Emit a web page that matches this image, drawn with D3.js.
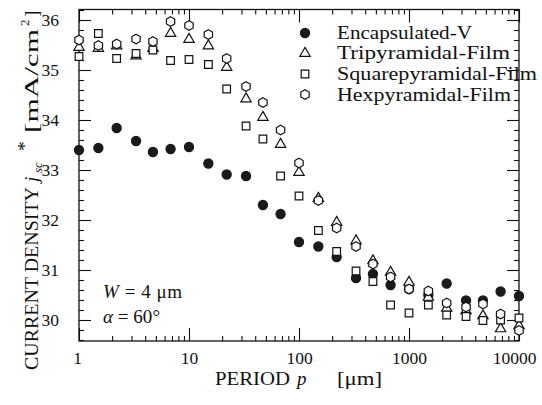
<!DOCTYPE html>
<html><head><meta charset="utf-8">
<script src="https://cdn.jsdelivr.net/npm/d3@7"></script>
</head>
<body style="margin:0;background:#fff">
<svg id="c" width="542" height="405"></svg>
<script>
const periods = [1,1.5,2.2,3.3,4.7,6.8,10,15,22,33,47,68,100,150,220,330,470,680,1000,1500,2200,3300,4700,6800,10000];
const encapsulated = [33.40,33.44,33.84,33.58,33.36,33.42,33.46,33.13,32.91,32.88,32.30,32.12,31.56,31.47,31.26,30.84,30.92,30.70,30.62,30.50,30.73,30.39,30.39,30.57,30.48];
const tripyramidal = [35.47,35.45,35.50,35.30,35.45,35.75,35.63,35.50,35.07,34.44,34.07,33.53,32.97,32.45,31.97,31.60,31.20,30.97,30.77,30.47,30.25,30.20,30.10,29.84,29.90];
const squarepyramidal = [35.27,35.73,35.23,35.33,35.40,35.19,35.21,35.11,34.62,33.88,33.62,32.88,32.48,31.79,31.37,30.98,30.77,30.30,30.14,30.30,30.10,30.07,29.99,30.00,30.04];
const hexpyramidal = [35.60,35.49,35.52,35.62,35.57,35.97,35.89,35.71,35.23,34.67,34.35,33.80,33.14,32.39,31.84,31.47,31.12,30.86,30.62,30.58,30.34,30.26,30.32,30.12,29.79];
const seriesNames = ["Encapsulated-V","Tripyramidal-Film","Squarepyramidal-Film","Hexpyramidal-Film"];
const xMajorTicks = [1,10,100,1000,10000];
const xTickLabels = ["1","10","100","1000","10000"];
const yMajorTicks = [30,31,32,33,34,35,36];

const FONT = "'Liberation Serif'";
const svg = d3.select("#c");
const L=79, R=519, T=9.5, B=341;
const x = d3.scaleLog().domain([1,10000]).range([L,R]);
const y = d3.scaleLinear().domain([29.58,36.21]).range([B,T]);

const xMinor = x.ticks().filter(v=>!xMajorTicks.includes(v));
const yMinor = d3.range(29.6,36.21,0.2).map(v=>+v.toFixed(1)).filter(v=>!yMajorTicks.includes(v));

function styleAxis(g, fs){
  g.attr("font-family",null).attr("font-size",null);
  g.select(".domain").remove();
  g.selectAll("line").attr("stroke","#111").attr("stroke-width",1.1);
  g.selectAll("text").attr("fill","#111").style("font-family",FONT).style("font-size",(fs||17)+"px");
}
// bottom
svg.append("g").attr("transform",`translate(0,${B})`)
  .call(d3.axisBottom(x).tickValues(xMajorTicks).tickSize(-13).tickPadding(10.5).tickFormat((d,i)=>xTickLabels[i]))
  .call(g=>styleAxis(g,17.5))
  .call(g=>g.selectAll("text").attr("dx",d=>d===10000?-5:(d===1?-2:0)));
svg.append("g").attr("transform",`translate(0,${B})`)
  .call(d3.axisBottom(x).tickValues(xMinor).tickSize(-5).tickFormat(""))
  .call(styleAxis);
// top
svg.append("g").attr("transform",`translate(0,${T})`)
  .call(d3.axisTop(x).tickValues(xMajorTicks).tickSize(-13).tickFormat(""))
  .call(styleAxis);
svg.append("g").attr("transform",`translate(0,${T})`)
  .call(d3.axisTop(x).tickValues(xMinor).tickSize(-5).tickFormat(""))
  .call(styleAxis);
// left
svg.append("g").attr("transform",`translate(${L},0)`)
  .call(d3.axisLeft(y).tickValues(yMajorTicks).tickSize(-12).tickPadding(20).tickFormat(d3.format("d")))
  .call(g=>styleAxis(g,17.5));
svg.append("g").attr("transform",`translate(${L},0)`)
  .call(d3.axisLeft(y).tickValues(yMinor).tickSize(-5).tickFormat(""))
  .call(styleAxis);
// right
svg.append("g").attr("transform",`translate(${R},0)`)
  .call(d3.axisRight(y).tickValues(yMajorTicks).tickSize(-12).tickFormat(""))
  .call(styleAxis);
svg.append("g").attr("transform",`translate(${R},0)`)
  .call(d3.axisRight(y).tickValues(yMinor).tickSize(-5).tickFormat(""))
  .call(styleAxis);
// frame
svg.append("rect").attr("x",L).attr("y",T).attr("width",R-L).attr("height",B-T)
  .attr("fill","none").attr("stroke","#111").attr("stroke-width",1.3);

// symbols
const sym = {
  circleFilled: d3.symbol().type(d3.symbolCircle).size(66),
  triangle: d3.symbol().type(d3.symbolTriangle).size(46),
  square: d3.symbol().type(d3.symbolSquare).size(58),
};
function hexPath(r){
  const pts=d3.range(6).map(i=>{const a=Math.PI/3*i - Math.PI/2;return [r*Math.cos(a), r*Math.sin(a)];});
  return "M"+pts.map(p=>p.join(",")).join("L")+"Z";
}
const hex = hexPath(4.8);
const series = [
  {name:seriesNames[0], vals:encapsulated, path:sym.circleFilled(), fill:"#1a1a1a", stroke:"#1a1a1a", w:135},
  {name:seriesNames[1], vals:tripyramidal, path:sym.triangle(), fill:"#fff", stroke:"#111", dy:0.8, w:173},
  {name:seriesNames[2], vals:squarepyramidal, path:sym.square(), fill:"#fff", stroke:"#111", w:200},
  {name:seriesNames[3], vals:hexpyramidal, path:hex, fill:"#fff", stroke:"#111", w:174},
];
series.forEach(s=>{
  svg.append("g").selectAll("path").data(periods.map((p,i)=>[p,s.vals[i]])).join("path")
    .attr("d",s.path)
    .attr("transform",d=>`translate(${x(d[0])},${y(d[1])+(s.dy||0)})`)
    .attr("fill",s.fill).attr("stroke",s.stroke).attr("stroke-width",1.2);
});

function txt(sel,fs){ return sel.append("text").style("font-family",FONT).style("font-size",(fs||18)+"px").attr("fill","#111"); }

// legend
const legY=[33,52.5,74,94.5];
series.forEach((s,i)=>{
  svg.append("path").attr("d",s.path).attr("transform",`translate(305,${legY[i]+(s.dy||0)})`)
    .attr("fill",s.fill).attr("stroke",s.stroke).attr("stroke-width",1.2);
  txt(svg,18).attr("x",337).attr("y",legY[i]+6).attr("textLength",s.w).attr("lengthAdjust","spacingAndGlyphs").text(s.name);
});

// annotations
const ann1 = txt(svg,19).attr("x",103).attr("y",298).attr("textLength",79).attr("lengthAdjust","spacing");
ann1.append("tspan").style("font-style","italic").text("W");
ann1.append("tspan").text(" = 4 μm");
const ann2 = txt(svg,19).attr("x",103).attr("y",323).attr("textLength",57).attr("lengthAdjust","spacing");
ann2.append("tspan").style("font-style","italic").text("α");
ann2.append("tspan").text(" = 60°");

// x title
txt(svg,19).attr("x",215).attr("y",385).attr("textLength",75).attr("lengthAdjust","spacingAndGlyphs").text("PERIOD");
txt(svg,19).attr("x",297).attr("y",385).style("font-style","italic").text("p");
txt(svg,19).attr("x",337).attr("y",385).attr("textLength",45).attr("lengthAdjust","spacingAndGlyphs").text("[μm]");

// y title (rotated, reading bottom to top)
const yg = svg.append("g").attr("transform","translate(38,370) rotate(-90)");
txt(yg,19.5).attr("x",0).attr("y",0).attr("textLength",183).attr("lengthAdjust","spacingAndGlyphs").text("CURRENT DENSITY");
txt(yg,19.5).attr("x",188).attr("y",0).style("font-style","italic").text("j");
txt(yg,13).attr("x",197).attr("y",4).style("font-style","italic").text("sc");
txt(yg,19.5).attr("x",219).attr("y",-7).text("*");
txt(yg,19.5).attr("x",237).attr("y",0).attr("textLength",104).attr("lengthAdjust","spacingAndGlyphs").text("[mA/cm");
txt(yg,13).attr("x",344).attr("y",-9).text("2");
txt(yg,19.5).attr("x",353).attr("y",0).text("]");
</script></body></html>
